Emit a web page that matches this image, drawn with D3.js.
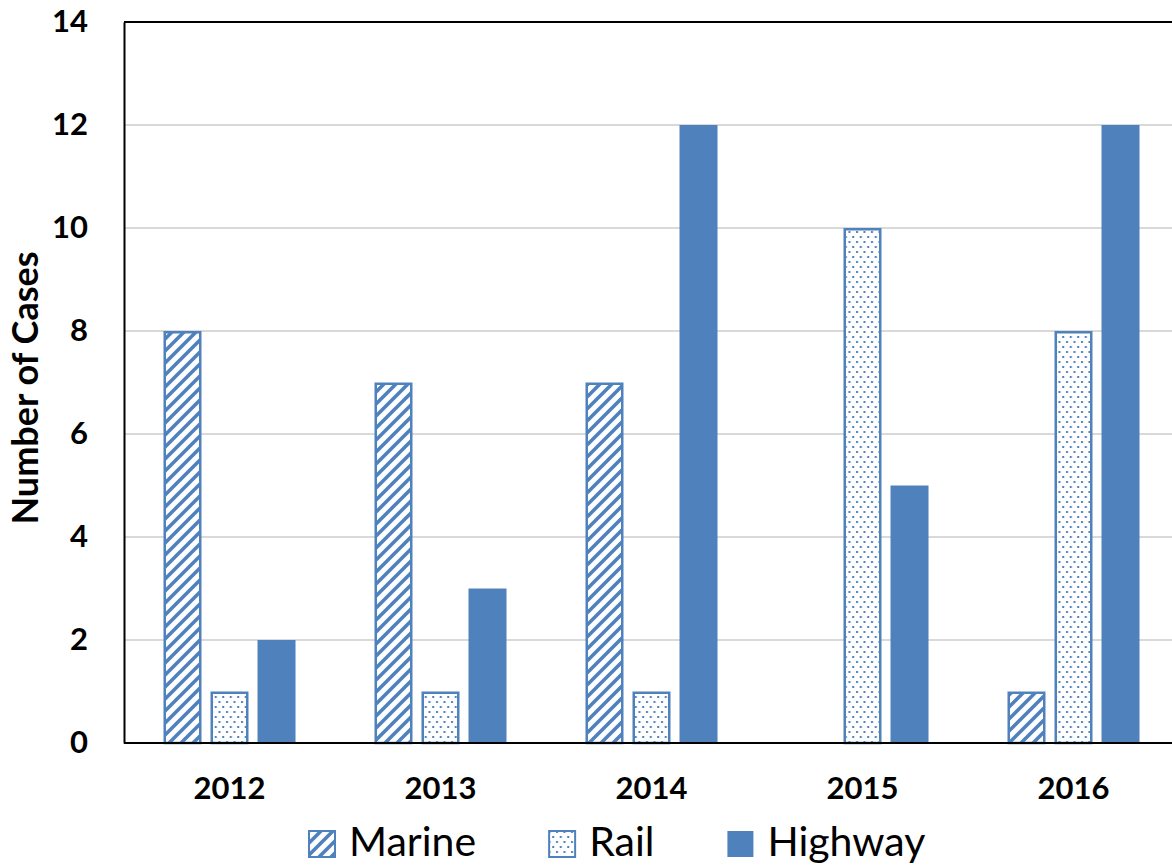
<!DOCTYPE html>
<html>
<head>
<meta charset="utf-8">
<script src="https://cdn.jsdelivr.net/npm/d3@7"></script>
<style>
  html, body { margin: 0; padding: 0; background: #fff; }
  svg { display: block; }
</style>
</head>
<body>
<script>
const years = ["2012", "2013", "2014", "2015", "2016"];
const seriesNames = ["Marine", "Rail", "Highway"];
const marine = [8, 7, 7, 0, 1];
const rail = [1, 1, 1, 10, 8];
const highway = [2, 3, 12, 5, 12];
const yTicks = [0, 2, 4, 6, 8, 10, 12, 14];
const yTitle = "Number of Cases";

(function () {
const W = 1172, H = 868;
const blue = "#4F81BD";
const fontFam = "Lato, 'Open Sans', sans-serif";

const svg = d3.select("body").append("svg").attr("width", W).attr("height", H);
const defs = svg.append("defs");

const P = 12;
const hatch = defs.append("pattern").attr("id", "hatch")
  .attr("patternUnits", "userSpaceOnUse").attr("width", P).attr("height", P);
hatch.append("rect").attr("width", P).attr("height", P).attr("fill", "#fff");
hatch.append("path").attr("d", `M-3,3 L3,-3 M0,${P} L${P},0 M${P-3},${P+3} L${P+3},${P-3}`)
  .attr("stroke", blue).attr("stroke-width", 3.6);

const dots = defs.append("pattern").attr("id", "dots")
  .attr("patternUnits", "userSpaceOnUse").attr("width", 7.5).attr("height", 10);
dots.append("rect").attr("width", 7.5).attr("height", 10).attr("fill", "#fff");
dots.append("rect").attr("x", 1).attr("y", 1).attr("width", 2).attr("height", 2).attr("fill", blue);
dots.append("rect").attr("x", 4.75).attr("y", 6).attr("width", 2).attr("height", 2).attr("fill", blue);

const fills = { Marine: "url(#hatch)", Rail: "url(#dots)", Highway: blue };
const valuesBySeries = { Marine: marine, Rail: rail, Highway: highway };

const pLeft = 124, pRight = 1179, pTop = 22, pBottom = 743;

const x = d3.scaleBand().domain(years).range([pLeft, pRight]).padding(0);
const xs = d3.scaleBand().domain(seriesNames).range([0, x.bandwidth()])
  .paddingInner(9 / 47).paddingOuter(0.84);
const y = d3.scaleLinear().domain([0, 14]).range([pBottom, pTop]);

// gridlines
svg.append("g").selectAll("line").data(yTicks.filter(t => t > 0 && t < 14)).join("line")
  .attr("x1", pLeft).attr("x2", W)
  .attr("y1", d => y(d)).attr("y2", d => y(d))
  .attr("stroke", "#d9d9d9").attr("stroke-width", 2);

// bars
const data = [];
years.forEach((yr, i) => seriesNames.forEach(s => data.push({ yr, s, v: valuesBySeries[s][i] })));
svg.append("g").selectAll("rect").data(data.filter(d => d.v > 0)).join("rect")
  .attr("x", d => x(d.yr) + xs(d.s) + (d.s === "Highway" ? 0 : 1.25))
  .attr("width", d => xs.bandwidth() - (d.s === "Highway" ? 0 : 2.5))
  .attr("y", d => y(d.v) + (d.s === "Highway" ? 0 : 1.25))
  .attr("height", d => y(0) - y(d.v) - (d.s === "Highway" ? 0 : 1.25))
  .attr("fill", d => fills[d.s])
  .attr("stroke", d => d.s === "Highway" ? "none" : blue)
  .attr("stroke-width", 2.5);

// axes frame
svg.append("line").attr("x1", pLeft).attr("x2", W).attr("y1", pTop).attr("y2", pTop)
  .attr("stroke", "#000").attr("stroke-width", 2);
svg.append("line").attr("x1", pLeft).attr("x2", W).attr("y1", pBottom).attr("y2", pBottom)
  .attr("stroke", "#000").attr("stroke-width", 2);

const yAxis = d3.axisLeft(y).tickValues(yTicks).tickSize(0).tickPadding(36);
const gy = svg.append("g").attr("transform", `translate(${pLeft},0)`).call(yAxis);
gy.select(".domain").attr("stroke", "#000").attr("stroke-width", 2);
gy.selectAll("text").attr("font-family", fontFam).attr("font-weight", "bold")
  .attr("font-size", 31).attr("fill", "#000");

const xAxis = d3.axisBottom(x).tickSize(0).tickPadding(34);
const gx = svg.append("g").attr("transform", `translate(0,${pBottom})`).call(xAxis);
gx.select(".domain").remove();
gx.selectAll("text").attr("font-family", fontFam).attr("font-weight", "bold")
  .attr("font-size", 31).attr("fill", "#000");

svg.append("text").attr("transform", "translate(24,388) rotate(-90)")
  .attr("text-anchor", "middle").attr("dominant-baseline", "central")
  .attr("font-family", fontFam).attr("font-weight", "bold").attr("font-size", 36)
  .text(yTitle);

// legend
const lg = svg.append("g");
let lx = 308;
seriesNames.forEach(s => {
  lg.append("rect").attr("x", lx + 1).attr("y", 831).attr("width", 26).attr("height", 26)
    .attr("fill", fills[s]).attr("stroke", s === "Highway" ? "none" : blue).attr("stroke-width", 2);
  const t = lg.append("text").attr("x", lx + 41).attr("y", 856)
    .attr("font-family", fontFam).attr("font-size", 41).attr("fill", "#000").text(s);
  lx += 41 + t.node().getComputedTextLength() + 72;
});
})();
</script>
</body>
</html>
